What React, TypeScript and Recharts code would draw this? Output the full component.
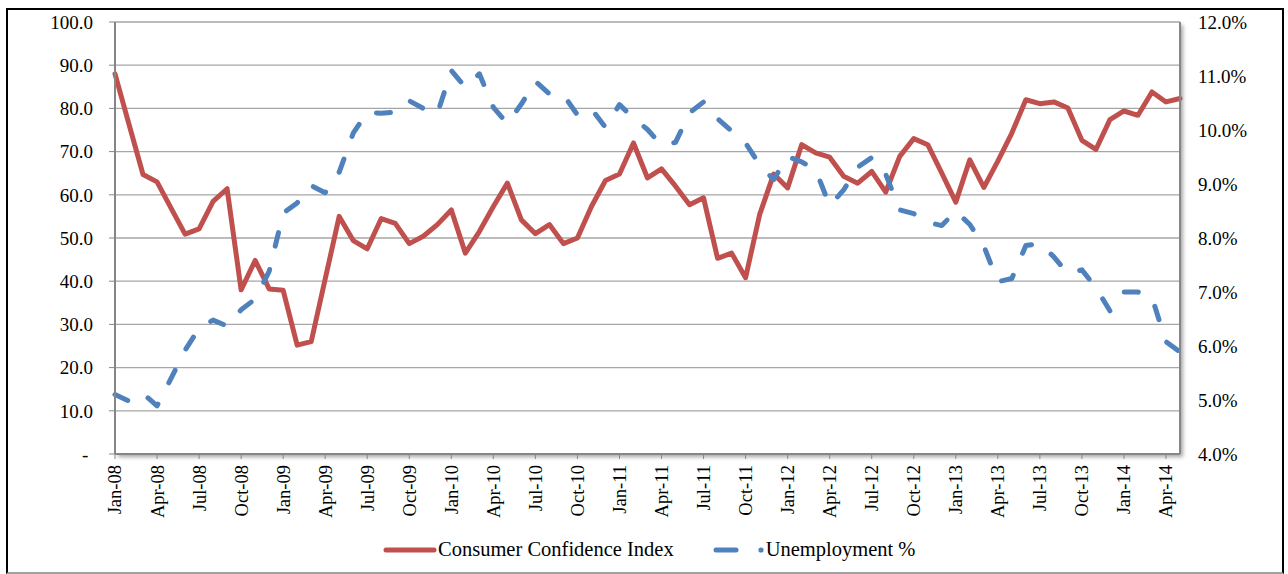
import React from "react";
import {
  LineChart,
  Line,
  XAxis,
  YAxis,
  CartesianGrid,
} from "recharts";

const MONTH_NAMES = ["Jan", "Feb", "Mar", "Apr", "May", "Jun", "Jul", "Aug", "Sep", "Oct", "Nov", "Dec"];
const YEARS = ["08", "09", "10", "11", "12", "13", "14"];

// Jan-08 .. May-14
const months = YEARS.flatMap((y) => MONTH_NAMES.map((m) => `${m}-${y}`)).slice(0, 77);

const consumerConfidence = [
  88.0, 76.3, 64.7, 63.0, 56.9, 50.9, 52.1, 58.5, 61.4, 38.0, 44.8, 38.2,
  37.9, 25.2, 26.0, 40.5, 55.0, 49.4, 47.5, 54.5, 53.4, 48.7, 50.4, 53.1,
  56.5, 46.5, 51.5, 57.3, 62.7, 54.2, 51.0, 53.1, 48.7, 50.0, 57.3, 63.3,
  64.8, 72.0, 63.9, 66.0, 62.0, 57.7, 59.3, 45.3, 46.5, 40.8, 55.4, 64.8,
  61.6, 71.6, 69.7, 68.7, 64.3, 62.7, 65.4, 60.6, 68.9, 73.0, 71.6, 65.0,
  58.3, 68.1, 61.7, 67.8, 74.3, 82.0, 81.1, 81.5, 80.1, 72.6, 70.5, 77.4,
  79.4, 78.4, 83.8, 81.5, 82.3,
];

const unemployment = [
  5.10, 4.98, 5.12, 4.89, 5.40, 5.92, 6.33, 6.48, 6.37, 6.67, 6.87, 7.38,
  8.46, 8.65, 8.97, 8.84, 9.22, 9.94, 10.33, 10.31, 10.33, 10.54, 10.40, 10.30,
  11.10, 10.79, 11.04, 10.42, 10.12, 10.48, 10.90, 10.67, 10.65, 10.28, 10.39, 10.05,
  10.47, 10.22, 10.01, 9.72, 9.77, 10.32, 10.52, 10.21, 9.98, 9.76, 9.36, 9.08,
  9.51, 9.41, 9.26, 8.60, 8.89, 9.31, 9.49, 9.18, 8.52, 8.45, 8.29, 8.23,
  8.50, 8.25, 7.85, 7.19, 7.25, 7.86, 7.90, 7.65, 7.34, 7.41, 7.08, 6.65,
  7.00, 7.00, 6.90, 6.08, 5.89,
];

const leftTicks = [0, 10, 20, 30, 40, 50, 60, 70, 80, 90, 100];
const rightTicks = [4, 5, 6, 7, 8, 9, 10, 11, 12];

const data = months.map((month, i) => ({
  month,
  cci: consumerConfidence[i],
  unemp: unemployment[i],
}));

const RED = "#C0504D";
const BLUE = "#4F81BD";
const AXIS = "#868686";
const FONT = "'Liberation Serif', 'Times New Roman', serif";

const MonthTick = (props: any) => {
  const { x, y, payload } = props;
  return (
    <text
      x={0}
      y={0}
      dy="0.35em"
      textAnchor="end"
      fontFamily={FONT}
      fontSize={18.5}
      fill="#000"
      transform={`translate(${x},${y}) rotate(-90)`}
    >
      {payload.value}
    </text>
  );
};

export default function App() {
  return (
    <div
      style={{
        position: "absolute",
        left: 0,
        top: 0,
        width: 1288,
        height: 574,
        background: "#fff",
        overflow: "hidden",
      }}
    >
      <div
        style={{
          position: "absolute",
          left: 6,
          top: 8,
          width: 1278,
          height: 566,
          boxSizing: "border-box",
          borderLeft: "2px solid #000",
          borderTop: "2px solid #000",
          borderRight: "2px solid #000",
          borderBottom: "2px solid #a0a0a0",
        }}
      />
      {/* plot area shadow */}
      <div
        style={{
          position: "absolute",
          left: 115,
          top: 22,
          width: 1065,
          height: 432,
          background: "#fff",
          boxShadow: "3px 3px 4px rgba(0,0,0,0.35)",
        }}
      />
      <div style={{ position: "absolute", left: 0, top: 0 }}>
        <LineChart
          width={1288}
          height={574}
          data={data}
          margin={{ top: 22, right: 0, bottom: 0, left: 0 }}
        >
          <CartesianGrid
            yAxisId="left"
            horizontal
            vertical={false}
            stroke="#a6a6a6"
            strokeWidth={1.3}
          />
          <XAxis
            dataKey="month"
            interval={2}
            height={120}
            tickSize={5}
            tickMargin={6}
            tick={<MonthTick />}
            axisLine={{ stroke: AXIS, strokeWidth: 2 }}
            tickLine={{ stroke: AXIS }}
          />
          <YAxis
            yAxisId="left"
            width={115}
            domain={[0, 100]}
            ticks={leftTicks}
            tickFormatter={(v: number) => (v === 0 ? "-\u00a0" : v.toFixed(1))}
            tickSize={6}
            tickMargin={16}
            axisLine={{ stroke: AXIS, strokeWidth: 2 }}
            tickLine={{ stroke: AXIS }}
            tick={{ fontFamily: FONT, fontSize: 19, fill: "#000" }}
          />
          <YAxis
            yAxisId="right"
            orientation="right"
            width={108}
            domain={[4, 12]}
            ticks={rightTicks}
            tickFormatter={(v: number) => `${v.toFixed(1)}%`}
            tickSize={0}
            tickMargin={18}
            axisLine={{ stroke: AXIS, strokeWidth: 2 }}
            tickLine={false}
            tick={{ fontFamily: FONT, fontSize: 19, fill: "#000" }}
          />
          <Line
            yAxisId="left"
            type="linear"
            dataKey="cci"
            name="Consumer Confidence Index"
            stroke={RED}
            strokeWidth={5}
            strokeLinejoin="round"
            strokeLinecap="round"
            dot={false}
            isAnimationActive={false}
          />
          <Line
            yAxisId="right"
            type="linear"
            dataKey="unemp"
            name="Unemployment %"
            stroke={BLUE}
            strokeWidth={5}
            strokeDasharray="14 24"
            strokeLinejoin="round"
            strokeLinecap="round"
            dot={false}
            isAnimationActive={false}
          />
        </LineChart>
      </div>
      {/* legend */}
      <div
        style={{
          position: "absolute",
          left: 382,
          top: 538,
          display: "flex",
          alignItems: "center",
          fontFamily: FONT,
          fontSize: 20.5,
          color: "#000",
          whiteSpace: "nowrap",
        }}
      >
        <svg width={56} height={10}>
          <line x1={4} y1={5} x2={52} y2={5} stroke={RED} strokeWidth={5} strokeLinecap="round" />
        </svg>
        <span>Consumer Confidence Index</span>
        <svg width={92} height={10}>
          <line x1={42} y1={5} x2={62} y2={5} stroke={BLUE} strokeWidth={5} strokeLinecap="round" />
          <circle cx={87} cy={5} r={2.6} fill={BLUE} />
        </svg>
        <span>Unemployment %</span>
      </div>
    </div>
  );
}
